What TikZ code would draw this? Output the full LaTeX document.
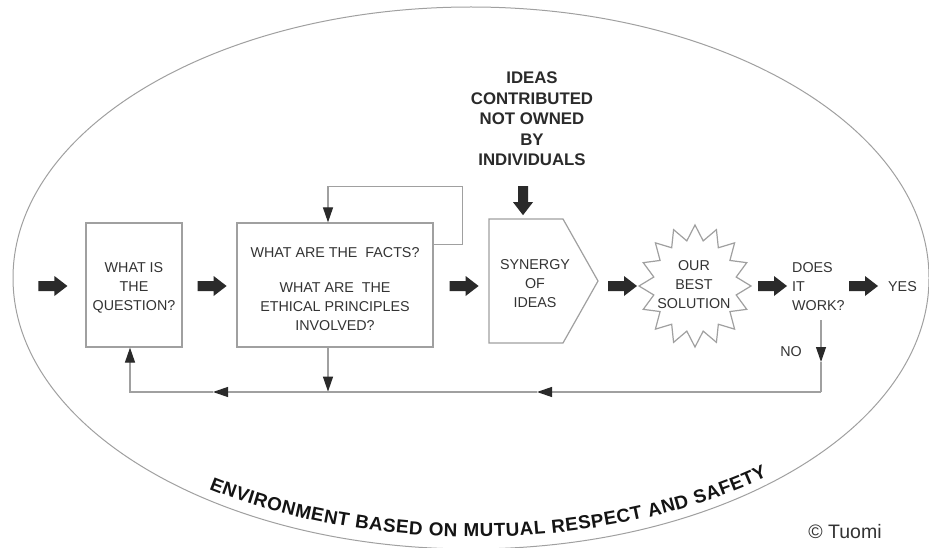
\documentclass[tikz,border=0pt]{standalone}
\usepackage{fontspec}
\setmainfont{Liberation Sans}
\usetikzlibrary{arrows.meta,calc,decorations.text}
\definecolor{lin}{HTML}{A0A0A0}
\definecolor{txt}{HTML}{333333}
\definecolor{ah}{HTML}{2A2A2A}
\begin{document}
\begin{tikzpicture}[x=1pt,y=-1pt,
  boxline/.style={draw=lin, line width=1.2pt},
  qbox/.style={boxline, rectangle, inner sep=0pt},
  lbl/.style={text=txt, font=\fontsize{14.3pt}{19pt}\selectfont, align=center, inner sep=0pt},
  conn/.style={draw=lin, line width=1.2pt},
  tip/.style={-{Triangle[length=15pt,width=10pt,color=ah]}},
  barrow/.pic={\fill[ah] (0,-5) -- (16,-5) -- (16,-10) -- (29,0) -- (16,10) -- (16,5) -- (0,5) -- cycle;}]
\path[use as bounding box, fill=white] (0,0) rectangle (929,548);
% environment ellipse
\draw[draw=lin, line width=1pt] (471,278) ellipse [x radius=458pt, y radius=271pt];
% boxes
\node[qbox, minimum width=96pt, minimum height=124pt] (q) at (134,285) {};
\node[lbl] (qt) at (134,288) {WHAT IS\\THE\\QUESTION?};
\node[qbox, minimum width=196pt, minimum height=124pt] (f) at (335,285) {};
\node[lbl] (ft) at (335,253) {WHAT ARE THE~ FACTS?};
\node[lbl] (ft2) at (335,307) {WHAT ARE~ THE\\ETHICAL PRINCIPLES\\INVOLVED?};
% synergy pentagon
\coordinate (stip) at (598,281);
\draw[boxline] (489,219) -- (563,219) -- (stip) -- (563,343) -- (489,343) -- cycle;
\node[lbl] (s) at (535,284) {SYNERGY\\OF\\IDEAS};
% star
\coordinate (bc) at (695,286);
\draw[boxline, shift={(bc)}] (90:56 and 61)
  \foreach \k in {0,...,15} { -- ({90+\k*22.5+11.25}:42 and 46) -- ({90+(\k+1)*22.5}:56 and 61) } -- cycle;
\node[lbl] (b) at (694,285) {OUR\\BEST\\SOLUTION};
% decision texts
\node[lbl, align=left, anchor=west] (d) at (792,287) {DOES\\IT\\WORK?};
\node[lbl, anchor=west] (y) at (888,287) {YES};
\node[lbl] (no) at (791,352) {NO};
% ideas header
\node[text=ah, font=\bfseries\fontsize{16.8pt}{20.5pt}\selectfont, align=center, inner sep=0pt] (ideas) at (532,119) {IDEAS\\CONTRIBUTED\\NOT OWNED\\BY\\INDIVIDUALS};
% copyright
\node[text=txt, font=\fontsize{19.5pt}{20pt}\selectfont, inner sep=0pt] (cr) at (845,532) {© Tuomi};
% feedback loop over facts box
\draw[conn, tip] ($(f.north east)+(0,22)$) -- ++(29,0) -- ++(0,-58) -| ($(f.north)+(-7,0)$);
\draw[conn, tip] ($(f.south)+(-7,0)$) -- ++(0,44);
% NO return path
\coordinate (n0) at (821,320);
\coordinate (n1) at (821,362);
\coordinate (n2) at (821,392);
\coordinate (m1) at (537,392);
\coordinate (m2) at (213,392);
\coordinate (m3) at (130,392);
\draw[conn, tip] (n0) -- (n1);
\draw[conn] (n1) -- (n2);
\draw[conn, tip] (n2) -- (m1);
\draw[conn, tip] (m1) -- (m2);
\draw[conn, tip] (m2) -- (m3) -- ($(q.south)+(-4,0)$);
% block arrows
\pic at ($(q.west)+(-47,1)$) {barrow};
\pic at ($(q.east)+(15,1)$) {barrow};
\pic at ($(f.east)+(16,1)$) {barrow};
\pic at ($(stip)+(10,5)$) {barrow};
\pic at ($(bc)+(63,0)$) {barrow};
\pic at ($(y.west)+(-39,-1)$) {barrow};
\pic[rotate=-90] at ($(ideas.south)+(-9,20)$) {barrow};
% curved bottom text
\path[decorate, decoration={text along path, text align={fit to path}, text color=black!92,
  text={|\bfseries\fontsize{18.8pt}{20pt}\selectfont|ENVIRONMENT BASED ON MUTUAL RESPECT AND SAFETY}}]
  (209,489) .. controls (376,556) and (604,553) .. (767,477);
\end{tikzpicture}
\end{document}
